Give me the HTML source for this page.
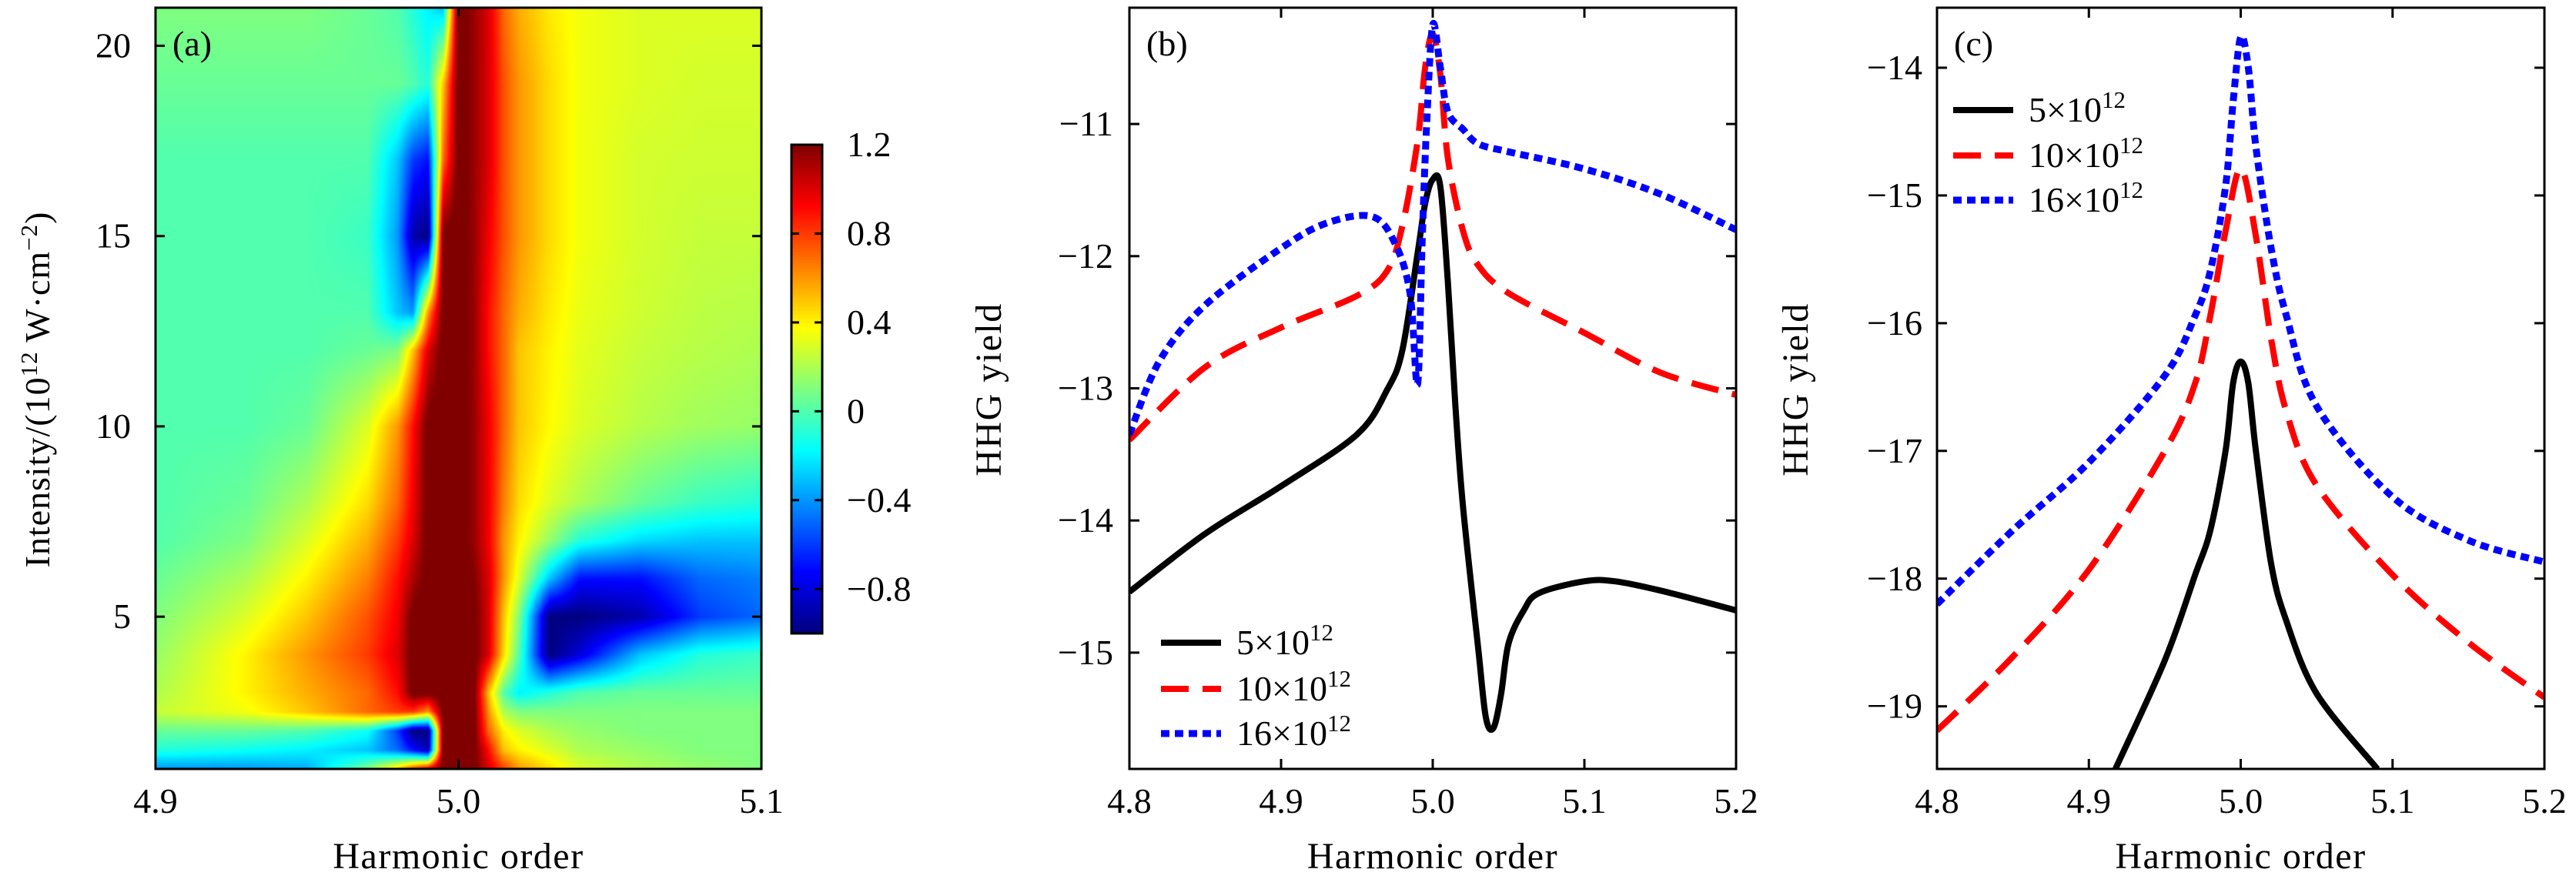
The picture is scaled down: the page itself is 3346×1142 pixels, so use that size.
<!DOCTYPE html>
<html><head><meta charset="utf-8"><style>
html,body{margin:0;padding:0;background:#fff;}
#wrap{position:relative;width:3346px;height:1142px;overflow:hidden;}
svg text{font-family:"Liberation Serif",serif;fill:#000;}
</style></head><body>
<div id="wrap">
<canvas id="heat" width="787" height="989" style="position:absolute;left:202px;top:10px;"></canvas>
<canvas id="cbar" width="40" height="635" style="position:absolute;left:1028px;top:188px;"></canvas>
<svg id="svg" width="3346" height="1142" style="position:absolute;left:0;top:0;" xmlns="http://www.w3.org/2000/svg"></svg>
</div>
<script>
// ---------- Panel (a) data ----------
const heatX = [4.90,4.93,4.95,4.97,4.98,4.985,4.99,4.995,5.0,5.005,5.01,5.015,5.02,5.03,5.04,5.06,5.08,5.10];
const heatI = [1,1.5,2,2.5,3,4,5,6,7,8,10,12,13,15,17,19,21];
const heatZ = [
[-0.4,-0.4,-0.35,0.1,0.5,0.8,1.0,1.25,1.25,1.25,1.0,0.8,0.6,0.45,0.3,0.2,0.15,0.1],
[-0.1,-0.15,-0.2,-0.3,-0.5,-0.7,-0.9,1.25,1.25,1.25,0.9,0.5,0.4,0.3,0.2,0.15,0.1,0.1],
[0.05,0.05,0.0,-0.15,-0.6,-1.0,-1.0,1.25,1.25,1.25,0.7,0.4,0.3,0.2,0.15,0.1,0.1,0.1],
[0.25,0.35,0.5,0.7,0.8,0.8,0.6,1.25,1.25,1.25,0.6,0.2,0.1,0.1,0.1,0.1,0.1,0.1],
[0.2,0.4,0.55,0.7,0.9,1.25,1.25,1.25,1.25,1.25,0.5,0.0,-0.2,-0.1,0.0,0.05,0.05,0.05],
[0.15,0.4,0.6,0.8,1.0,1.25,1.25,1.25,1.25,1.25,1.0,0.45,0.0,-1.0,-0.8,-0.3,-0.1,-0.05],
[0.1,0.3,0.5,0.75,0.95,1.25,1.25,1.25,1.25,1.25,1.0,0.5,0.1,-1.0,-1.0,-0.9,-0.6,-0.5],
[0.05,0.2,0.4,0.65,0.9,1.1,1.25,1.25,1.25,1.2,1.0,0.6,0.3,-0.3,-0.7,-0.7,-0.5,-0.45],
[0.0,0.1,0.3,0.55,0.8,1.0,1.25,1.25,1.25,1.15,0.95,0.6,0.4,0.15,-0.1,-0.25,-0.3,-0.3],
[0.0,0.05,0.2,0.45,0.7,0.95,1.25,1.25,1.25,1.15,0.95,0.65,0.45,0.3,0.2,0.05,-0.05,-0.1],
[0.0,0.0,0.05,0.3,0.6,0.9,1.25,1.25,1.25,1.15,0.95,0.7,0.5,0.38,0.3,0.22,0.17,0.15],
[0.0,0.0,0.0,0.05,0.1,0.5,1.0,1.25,1.25,1.15,0.9,0.7,0.5,0.4,0.32,0.25,0.22,0.2],
[0.0,0.0,0.0,0.0,-0.3,-0.4,0.6,1.25,1.25,1.15,0.9,0.7,0.55,0.42,0.33,0.27,0.23,0.22],
[0.0,0.0,0.0,-0.05,-0.4,-0.9,-1.0,1.25,1.25,1.15,0.95,0.75,0.6,0.45,0.35,0.28,0.25,0.25],
[0.0,0.0,0.0,0.0,-0.3,-0.6,-0.7,0.7,1.25,1.15,1.0,0.75,0.6,0.45,0.35,0.28,0.27,0.27],
[0.05,0.05,0.05,0.05,0.05,0.0,-0.1,0.5,1.25,1.15,1.0,0.75,0.6,0.45,0.35,0.3,0.28,0.28],
[0.1,0.1,0.1,0.05,0.0,-0.1,-0.2,-0.3,1.25,1.15,1.0,0.7,0.55,0.42,0.35,0.3,0.3,0.3]
];
const aXTicks = [4.9,5.0,5.1];
const aXTickLabels = ["4.9","5.0","5.1"];
const aYTicks = [5,10,15,20];
const cbTicks = [1.2,0.8,0.4,0,-0.4,-0.8];
const cbTickLabels = ["1.2","0.8","0.4","0","\u22120.4","\u22120.8"];

// ---------- Panel (b) data ----------
const bBlackX = [4.8,4.85,4.9,4.95,4.97,4.98,4.99,4.995,5.0,5.005,5.01,5.015,5.02,5.03,5.035,5.04,5.045,5.05,5.06,5.07,5.1,5.12,5.15,5.2];
const bBlackY = [-14.54,-14.1,-13.74,-13.35,-13.01,-12.71,-11.98,-11.6,-11.42,-11.47,-12.2,-13.14,-13.9,-14.97,-15.49,-15.57,-15.32,-14.93,-14.68,-14.55,-14.46,-14.46,-14.53,-14.68];
const bRedX = [4.8,4.85,4.9,4.95,4.97,4.98,4.99,4.995,5.0,5.005,5.01,5.02,5.03,5.05,5.1,5.15,5.2];
const bRedY = [-13.39,-12.84,-12.54,-12.3,-12.11,-11.77,-11.13,-10.57,-10.32,-10.62,-11.26,-11.81,-12.07,-12.28,-12.58,-12.88,-13.05];
const bBlueX = [4.8,4.82,4.85,4.9,4.93,4.96,4.975,4.985,4.99,4.993,4.996,5.0,5.005,5.01,5.02,5.03,5.05,5.1,5.15,5.2];
const bBlueY = [-13.35,-12.79,-12.37,-11.94,-11.75,-11.7,-11.9,-12.28,-12.97,-11.9,-11.0,-10.25,-10.57,-10.91,-11.04,-11.15,-11.21,-11.34,-11.53,-11.8];
const bYTicks = [-11,-12,-13,-14,-15];

// ---------- Panel (c) data ----------
const cBlackX = [4.9175,4.95,4.97,4.98,4.99,4.995,5.0,5.005,5.01,5.02,5.03,5.05,5.09];
const cBlackY = [-19.49,-18.64,-17.97,-17.62,-17.0,-16.47,-16.3,-16.47,-17.0,-17.88,-18.33,-18.9,-19.49];
const cRedX = [4.8,4.85,4.9,4.95,4.97,4.98,4.99,5.0,5.01,5.02,5.03,5.05,5.1,5.15,5.2];
const cRedY = [-19.19,-18.61,-17.93,-17.0,-16.47,-15.94,-15.28,-14.79,-15.32,-16.12,-16.69,-17.27,-17.97,-18.5,-18.93];
const cBlueX = [4.8,4.85,4.9,4.95,4.97,4.98,4.99,4.995,5.0,5.005,5.01,5.02,5.03,5.05,5.1,5.15,5.2];
const cBlueY = [-18.2,-17.62,-17.09,-16.41,-15.94,-15.59,-14.93,-14.27,-13.76,-14.0,-14.62,-15.41,-15.94,-16.65,-17.36,-17.7,-17.87];
const cYTicks = [-14,-15,-16,-17,-18,-19];
const lineXTicks = [4.8,4.9,5.0,5.1,5.2];
const lineXTickLabels = ["4.8","4.9","5.0","5.1","5.2"];
const legendLabels = ["5","10","16"];

// ---------- helpers ----------
const NS = "http://www.w3.org/2000/svg";
const svg = document.getElementById('svg');
function mk(tag, attrs, parent){
  const e = document.createElementNS(NS, tag);
  for (const k in attrs) e.setAttribute(k, attrs[k]);
  (parent||svg).appendChild(e);
  return e;
}
function lin(d0,d1,r0,r1){ return v => r0 + (v-d0)/(d1-d0)*(r1-r0); }
function jet(t){
  t = Math.max(0, Math.min(1, t));
  const f = c => Math.round(255*Math.max(0, Math.min(1, c)));
  return [f(1.5-Math.abs(4*t-3)), f(1.5-Math.abs(4*t-2)), f(1.5-Math.abs(4*t-1))];
}
function smoothPath(pts){
  let d = 'M'+pts[0][0].toFixed(1)+','+pts[0][1].toFixed(1);
  for (let i=0;i<pts.length-1;i++){
    const p0=pts[Math.max(0,i-1)], p1=pts[i], p2=pts[i+1], p3=pts[Math.min(pts.length-1,i+2)];
    const c1=[p1[0]+(p2[0]-p0[0])*0.165, p1[1]+(p2[1]-p0[1])*0.165];
    const c2=[p2[0]-(p3[0]-p1[0])*0.165, p2[1]-(p3[1]-p1[1])*0.165];
    d+=' C'+c1[0].toFixed(1)+','+c1[1].toFixed(1)+' '+c2[0].toFixed(1)+','+c2[1].toFixed(1)+' '+p2[0].toFixed(1)+','+p2[1].toFixed(1);
  }
  return d;
}
const VMIN=-1, VMAX=1.2;

// ---------- Heatmap ----------
(function(){
  const cv = document.getElementById('heat'), ctx = cv.getContext('2d');
  const W=cv.width, H=cv.height, img = ctx.createImageData(W,H);
  const xAt = lin(0,W,4.9,5.1), iAt = lin(0,H,21,1);
  function idx(arr,v){ let k=0; while(k<arr.length-2 && v>arr[k+1]) k++; return k; }
  for (let py=0; py<H; py++){
    const I = iAt(py+0.5), j = idx(heatI,I);
    const ty = Math.max(0,Math.min(1,(I-heatI[j])/(heatI[j+1]-heatI[j])));
    for (let px=0; px<W; px++){
      const x = xAt(px+0.5), i = idx(heatX,x);
      const tx = Math.max(0,Math.min(1,(x-heatX[i])/(heatX[i+1]-heatX[i])));
      const v = (heatZ[j][i]*(1-tx)+heatZ[j][i+1]*tx)*(1-ty) + (heatZ[j+1][i]*(1-tx)+heatZ[j+1][i+1]*tx)*ty;
      const c = jet((v-VMIN)/(VMAX-VMIN));
      const o = (py*W+px)*4;
      img.data[o]=c[0]; img.data[o+1]=c[1]; img.data[o+2]=c[2]; img.data[o+3]=255;
    }
  }
  ctx.putImageData(img,0,0);
  const cb = document.getElementById('cbar'), c2 = cb.getContext('2d');
  for (let py=0; py<cb.height; py++){
    const c = jet(1 - (py+0.5)/cb.height);
    c2.fillStyle = 'rgb('+c[0]+','+c[1]+','+c[2]+')';
    c2.fillRect(0,py,cb.width,1);
  }
})();

// ---------- Panel (a) axes ----------
(function(){
  const L=202,R=989,T=10,B=999;
  const sx = lin(4.9,5.1,L,R), sy = lin(1,21,B,T);
  const g = mk('g',{});
  
  
  const fr = mk('rect',{x:L,y:T,width:R-L,height:B-T,fill:'none',stroke:'#000','stroke-width':3},g);
  
  
  aXTicks.forEach((v,k)=>{
    const x=sx(v);
    mk('line',{x1:x,y1:B,x2:x,y2:B-12,stroke:'#000','stroke-width':3},g);
    mk('line',{x1:x,y1:T,x2:x,y2:T+12,stroke:'#000','stroke-width':3},g);
    const t = mk('text',{x:x,y:1056,'font-size':46,'text-anchor':'middle'},g);
    t.textContent = aXTickLabels[k];
    
    
  });
  aYTicks.forEach(v=>{
    const y=sy(v);
    mk('line',{x1:L,y1:y,x2:L+12,y2:y,stroke:'#000','stroke-width':3},g);
    mk('line',{x1:R,y1:y,x2:R-12,y2:y,stroke:'#000','stroke-width':3},g);
    const t = mk('text',{x:170,y:y+15,'font-size':46,'text-anchor':'end'},g);
    t.textContent = String(v);
    
    
  });
  const xl = mk('text',{x:(L+R)/2,y:1128,'font-size':48,'text-anchor':'middle','letter-spacing':'1.5'},g);
  xl.textContent='Harmonic order';
  
  
  const yl = mk('text',{x:0,y:0,'font-size':46,'text-anchor':'middle','letter-spacing':'1',transform:'translate(64,506) rotate(-90)'},g);
  yl.innerHTML = 'Intensity/(10<tspan dy="-16" font-size="31">12</tspan><tspan dy="16"> W·cm</tspan><tspan dy="-16" font-size="31">\u22122</tspan><tspan dy="16">)</tspan>';
  
  
  const pl = mk('text',{x:224,y:72,'font-size':46,'text-anchor':'start'},g);
  pl.textContent='(a)';
  
  
  const cT=188,cB=823,cL=1028,cR=1068;
  const cy = lin(VMIN,VMAX,cB,cT);
  const cf = mk('rect',{x:cL,y:cT,width:cR-cL,height:cB-cT,fill:'none',stroke:'#000','stroke-width':3},g);
  
  
  cbTicks.forEach((v,k)=>{
    const y=cy(v);
    mk('line',{x1:cR,y1:y,x2:cR-10,y2:y,stroke:'#000','stroke-width':3},g);
    mk('line',{x1:cL,y1:y,x2:cL+10,y2:y,stroke:'#000','stroke-width':3},g);
    const t = mk('text',{x:1100,y:y+15,'font-size':46},g);
    t.textContent = cbTickLabels[k];
    
    
  });
})();

// ---------- Line panels ----------
function linePanel(opt){
  const {name,L,R,T,B,ymin,ymax,yTicks,series,legendY,legendX,labelTxt,yLabelX,tickRight} = opt;
  const sx = lin(4.8,5.2,L,R), sy = lin(ymin,ymax,B,T);
  const g = mk('g',{});
  
  
  const clipId = name+'-clip';
  const cp = mk('clipPath',{id:clipId},g);
  mk('rect',{x:L,y:T,width:R-L,height:B-T},cp);
  const sg = mk('g',{'clip-path':'url(#'+clipId+')'},g);
  series.forEach(s=>{
    const pts = s.x.map((v,k)=>[sx(v), sy(s.y[k])]);
    const p = mk('path',{d:smoothPath(pts),fill:'none',stroke:s.color,'stroke-width':s.w,'stroke-dasharray':s.dash,'stroke-linejoin':'round'},sg);
    
    
  });
  const fr = mk('rect',{x:L,y:T,width:R-L,height:B-T,fill:'none',stroke:'#000','stroke-width':3},g);
  
  
  lineXTicks.forEach((v,k)=>{
    const x=sx(v);
    mk('line',{x1:x,y1:B,x2:x,y2:B-13,stroke:'#000','stroke-width':3},g);
    mk('line',{x1:x,y1:T,x2:x,y2:T+13,stroke:'#000','stroke-width':3},g);
    const t = mk('text',{x:x,y:1056,'font-size':46,'text-anchor':'middle'},g);
    t.textContent = lineXTickLabels[k];
    
    
  });
  yTicks.forEach(v=>{
    const y=sy(v);
    mk('line',{x1:L,y1:y,x2:L+13,y2:y,stroke:'#000','stroke-width':3},g);
    mk('line',{x1:R,y1:y,x2:R-13,y2:y,stroke:'#000','stroke-width':3},g);
    const t = mk('text',{x:tickRight,y:y+15,'font-size':46,'text-anchor':'end'},g);
    t.textContent = '\u2212'+Math.abs(v);
    
    
  });
  const xl = mk('text',{x:(L+R)/2,y:1128,'font-size':48,'text-anchor':'middle','letter-spacing':'1.5'},g);
  xl.textContent='Harmonic order';
  
  
  const yl = mk('text',{x:0,y:0,'font-size':48,'text-anchor':'middle','letter-spacing':'1.5',transform:'translate('+yLabelX+',506) rotate(-90)'},g);
  yl.textContent='HHG yield';
  
  
  const pl = mk('text',{x:L+22,y:72,'font-size':46},g);
  pl.textContent=labelTxt;
  
  
  series.forEach((s,k)=>{
    const y = legendY[k];
    const lg = mk('g',{},g);
    
    
    mk('line',{x1:legendX,y1:y,x2:legendX+78,y2:y,stroke:s.color,'stroke-width':s.w,'stroke-dasharray':s.dash},lg);
    const t = mk('text',{x:legendX+98,y:y+15,'font-size':46},lg);
    t.innerHTML = legendLabels[k]+'\u00d710<tspan dy="-18" font-size="31">12</tspan>';
  });
}
const styles = [
  {color:'#000',w:8,dash:'none'},
  {color:'#f00',w:8,dash:'36 18'},
  {color:'#00f',w:9,dash:'11 7'}
];
linePanel({name:'panel-b',L:1467,R:2255,T:10,B:999,ymin:-15.88,ymax:-10.12,yTicks:bYTicks,
  series:[
    Object.assign({name:'b-series-5e12',x:bBlackX,y:bBlackY},styles[0]),
    Object.assign({name:'b-series-10e12',x:bRedX,y:bRedY},styles[1]),
    Object.assign({name:'b-series-16e12',x:bBlueX,y:bBlueY},styles[2])],
  legendY:[835,895,953],legendX:1508,labelTxt:'(b)',yLabelX:1300,tickRight:1446});
linePanel({name:'panel-c',L:2516,R:3305,T:10,B:999,ymin:-19.49,ymax:-13.53,yTicks:cYTicks,
  series:[
    Object.assign({name:'c-series-5e12',x:cBlackX,y:cBlackY},styles[0]),
    Object.assign({name:'c-series-10e12',x:cRedX,y:cRedY},styles[1]),
    Object.assign({name:'c-series-16e12',x:cBlueX,y:cBlueY},styles[2])],
  legendY:[143,202,260],legendX:2537,labelTxt:'(c)',yLabelX:2348,tickRight:2497});
</script>
</body></html>
